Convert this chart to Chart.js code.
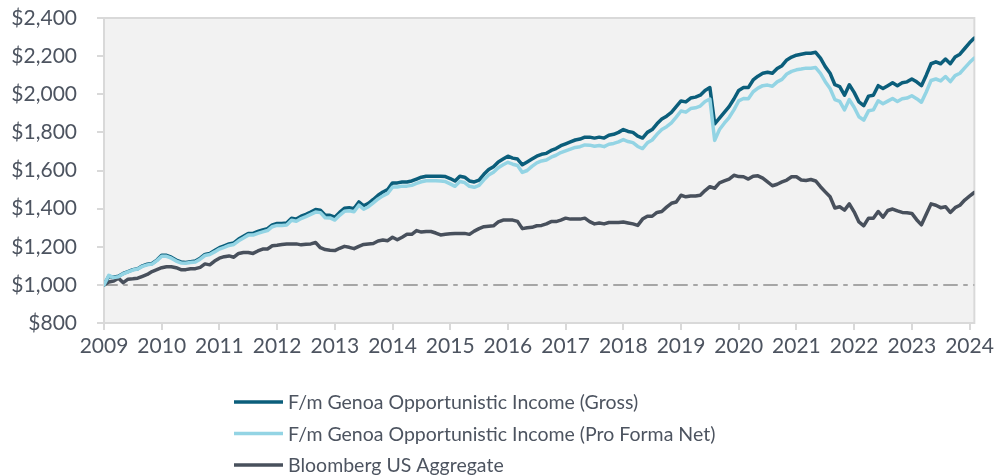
<!DOCTYPE html>
<html>
<head>
<meta charset="utf-8">
<script src="https://cdn.jsdelivr.net/npm/chart.js@4.4.1/dist/chart.umd.min.js"></script>
<style>
  html, body { margin: 0; padding: 0; background: #ffffff; }
  #wrap { position: relative; width: 998px; height: 475px; }
</style>
</head>
<body>
<div id="wrap"><canvas id="growth-chart"></canvas></div>
<script>
// ---- data (monthly growth of $1,000, Jan 2009 .. Feb 2024) ----
const startYear = 2009;
const yearLabels = ['2009', '2010', '2011', '2012', '2013', '2014', '2015', '2016',
                    '2017', '2018', '2019', '2020', '2021', '2022', '2023', '2024'];
const yTicks = [800, 1000, 1200, 1400, 1600, 1800, 2000, 2200, 2400];
const baseline = 1000;

const seriesNames = [
  'F/m Genoa Opportunistic Income (Gross)',
  'F/m Genoa Opportunistic Income (Pro Forma Net)',
  'Bloomberg US Aggregate'
];

const grossValues = [
  1000, 1045, 1040, 1045, 1060, 1070, 1080, 1085, 1100, 1108, 1112, 1130,
  1155, 1155, 1145, 1130, 1120, 1118, 1122, 1125, 1140, 1160, 1165, 1180,
  1195, 1205, 1215, 1220, 1240, 1255, 1270, 1270, 1280, 1288, 1295, 1315,
  1322, 1322, 1325, 1350, 1345, 1360, 1370, 1382, 1395, 1392, 1365, 1365,
  1355, 1380, 1402, 1405, 1400, 1435, 1415, 1428, 1448, 1470, 1487, 1500,
  1535, 1535, 1540, 1540, 1545, 1555, 1565, 1570, 1570, 1570, 1570, 1568,
  1558, 1545, 1570, 1565, 1545, 1540, 1550, 1580, 1605, 1620, 1645, 1660,
  1675, 1665, 1660, 1630, 1645, 1660, 1675, 1685, 1690, 1705, 1715, 1730,
  1740, 1750, 1760, 1765, 1775, 1775, 1770, 1775, 1770, 1785, 1790, 1800,
  1815, 1805, 1800, 1780, 1770, 1800, 1815, 1845, 1870, 1885, 1905, 1935,
  1965, 1960, 1980, 1985, 1995, 2020, 2035, 1845, 1875, 1905, 1935, 1975,
  2020, 2035, 2035, 2075, 2095, 2110, 2115, 2110, 2135, 2150, 2180, 2195,
  2205, 2210, 2215, 2215, 2220, 2190, 2145, 2110, 2050, 2040, 1995, 2050,
  2010, 1960, 1940, 1990, 1995, 2045, 2030, 2045, 2060, 2045, 2060, 2065,
  2080, 2065, 2045, 2100, 2160, 2170, 2160, 2185, 2160, 2195, 2210, 2240,
  2270, 2295
];

const netValues = [
  1000, 1050, 1038, 1043, 1058, 1068, 1078, 1083, 1097, 1105, 1109, 1127,
  1150, 1150, 1140, 1125, 1115, 1113, 1117, 1120, 1135, 1154, 1159, 1173,
  1188, 1197, 1207, 1212, 1231, 1246, 1261, 1261, 1270, 1278, 1285, 1305,
  1312, 1312, 1314, 1339, 1334, 1348, 1358, 1370, 1382, 1379, 1352, 1351,
  1340, 1365, 1386, 1389, 1384, 1418, 1397, 1410, 1430, 1451, 1467, 1480,
  1513, 1513, 1518, 1518, 1522, 1532, 1541, 1546, 1546, 1546, 1545, 1542,
  1530, 1517, 1542, 1537, 1517, 1512, 1522, 1551, 1576, 1591, 1615, 1630,
  1643, 1633, 1626, 1590, 1600, 1622, 1640, 1650, 1655, 1670, 1680, 1694,
  1703, 1712, 1721, 1725, 1734, 1733, 1727, 1731, 1725, 1738, 1742, 1750,
  1762, 1752, 1746, 1726, 1715, 1745, 1760, 1790, 1815, 1830, 1850, 1880,
  1912, 1906, 1925, 1929, 1938, 1962, 1975, 1758, 1815, 1848, 1878, 1918,
  1965, 1978, 1976, 2013, 2032, 2045, 2048, 2042, 2065, 2078, 2106, 2120,
  2128, 2132, 2137, 2136, 2140, 2110, 2066, 2030, 1972, 1962, 1918, 1972,
  1932, 1882, 1864, 1913, 1918, 1966, 1950, 1964, 1978, 1962, 1976, 1980,
  1992, 1977, 1958, 2012, 2072, 2080, 2070, 2093, 2066, 2098, 2110, 2138,
  2166, 2190
];

const aggValues = [
  1000, 1015, 1020, 1035, 1012, 1030, 1032, 1035, 1045, 1055, 1070, 1080,
  1090, 1095, 1095, 1090, 1080, 1080, 1085, 1085, 1092, 1110, 1105, 1125,
  1140, 1148, 1152, 1145, 1165, 1170, 1170, 1165, 1178, 1188, 1188, 1205,
  1208, 1212, 1215, 1215, 1215, 1210, 1213, 1215, 1222, 1195, 1185, 1182,
  1180, 1192, 1202, 1197, 1190, 1202, 1212, 1215, 1217, 1230, 1235, 1232,
  1250, 1237, 1250, 1265, 1265, 1285, 1277, 1280, 1280, 1272, 1262, 1265,
  1268, 1270, 1270, 1270, 1265, 1282, 1295, 1305, 1308, 1310, 1330, 1340,
  1340, 1340, 1333, 1295, 1300, 1302, 1310, 1312, 1320, 1332, 1332, 1340,
  1350, 1345, 1345, 1345, 1350, 1332, 1320, 1325, 1320, 1327, 1327, 1327,
  1330, 1325, 1320, 1312, 1345, 1360, 1360, 1380, 1385, 1408, 1428, 1435,
  1470, 1462, 1466, 1466, 1470, 1495, 1515, 1507, 1535, 1545, 1555, 1575,
  1568, 1567, 1555, 1570, 1572, 1560, 1540, 1520, 1528, 1540, 1550, 1567,
  1567, 1550, 1548, 1553, 1545, 1515, 1488, 1462, 1403, 1410, 1392, 1425,
  1383, 1330, 1310, 1350, 1350, 1385, 1355, 1390, 1398, 1388, 1380, 1378,
  1375, 1342, 1315, 1370, 1425, 1418, 1405, 1410, 1380, 1405, 1418, 1445,
  1465, 1485
];

const seriesColors = ['#0b5e7b', '#93d4e4', '#48505c'];
const textColor = '#4d5460';
const frameColor = '#d9d9d9';

// month index -> point
const toPoints = (arr) => arr.map((v, i) => ({ x: i, y: v }));
const lastMonth = grossValues.length - 1;

// plot background + frame
const frame = {
  id: 'frame',
  beforeDraw(chart) {
    const { ctx, chartArea: a } = chart;
    ctx.save();
    ctx.fillStyle = '#f2f2f2';
    ctx.fillRect(a.left, a.top, a.right - a.left, a.bottom - a.top);
    ctx.strokeStyle = frameColor;
    ctx.lineWidth = 2;
    ctx.strokeRect(a.left, a.top, a.right - a.left, a.bottom - a.top);
    // top line runs out over the tick marks like the axis ticks
    ctx.beginPath();
    ctx.moveTo(a.left - 7, a.top);
    ctx.lineTo(a.left, a.top);
    ctx.stroke();
    ctx.restore();
  }
};

// stacked legend under the plot
const stackedLegend = {
  id: 'stackedLegend',
  afterDraw(chart) {
    const { ctx } = chart;
    ctx.save();
    ctx.font = '19.5px Lato';
    ctx.textBaseline = 'middle';
    seriesNames.forEach((name, i) => {
      const y = 402 + i * 31.5;
      ctx.strokeStyle = seriesColors[i];
      ctx.lineWidth = 3.5;
      ctx.beginPath();
      ctx.moveTo(234, y);
      ctx.lineTo(283, y);
      ctx.stroke();
      ctx.fillStyle = textColor;
      ctx.fillText(name, 288, y + 1);
    });
    ctx.restore();
  }
};

const ctx = document.getElementById('growth-chart').getContext('2d');
new Chart(ctx, {
  type: 'line',
  data: {
    datasets: [
      {
        label: seriesNames[0],
        data: toPoints(grossValues),
        borderColor: seriesColors[0],
        borderWidth: 3.5,
        order: 2
      },
      {
        label: seriesNames[1],
        data: toPoints(netValues),
        borderColor: seriesColors[1],
        borderWidth: 3.5,
        order: 1
      },
      {
        label: seriesNames[2],
        data: toPoints(aggValues),
        borderColor: seriesColors[2],
        borderWidth: 3.5,
        order: 3
      },
      {
        label: 'baseline',
        data: [{ x: 0, y: baseline }, { x: lastMonth, y: baseline }],
        borderColor: '#a6a6a6',
        borderWidth: 2,
        borderDash: [13, 7, 3, 7],
        order: 4
      }
    ]
  },
  options: {
    responsive: true,
    maintainAspectRatio: false,
    animation: false,
    elements: {
      point: { radius: 0, hoverRadius: 0 },
      line: { tension: 0, borderJoinStyle: 'round', borderCapStyle: 'round' }
    },
    layout: { padding: { top: 18, right: 20, left: 0, bottom: 0 } },
    plugins: {
      legend: { display: false },
      tooltip: { enabled: false }
    },
    scales: {
      x: {
        type: 'linear',
        min: 0,
        max: lastMonth,
        afterFit(scale) { scale.height = 152; },
        grid: {
          drawOnChartArea: false,
          drawTicks: true,
          tickLength: 7,
          color: frameColor,
          lineWidth: 2
        },
        border: { display: true, color: frameColor, width: 2 },
        ticks: {
          stepSize: 12,
          includeBounds: false,
          maxRotation: 0,
          autoSkip: false,
          padding: 4,
          color: textColor,
          font: { family: 'Lato', size: 21 },
          callback: (v) => yearLabels[v / 12]
        }
      },
      y: {
        min: yTicks[0],
        max: yTicks[yTicks.length - 1],
        afterFit(scale) {
          scale.width = 104;
          scale.paddingTop = 0;
          scale.paddingBottom = 0;
        },
        grid: {
          drawOnChartArea: false,
          drawTicks: true,
          tickLength: 7,
          color: frameColor,
          lineWidth: 2
        },
        border: { display: true, color: frameColor, width: 2 },
        ticks: {
          stepSize: 200,
          padding: 20,
          color: textColor,
          font: { family: 'Lato', size: 21 },
          callback: (v) => '$' + v.toLocaleString('en-US')
        }
      }
    }
  },
  plugins: [frame, stackedLegend]
});
</script>
</body>
</html>
